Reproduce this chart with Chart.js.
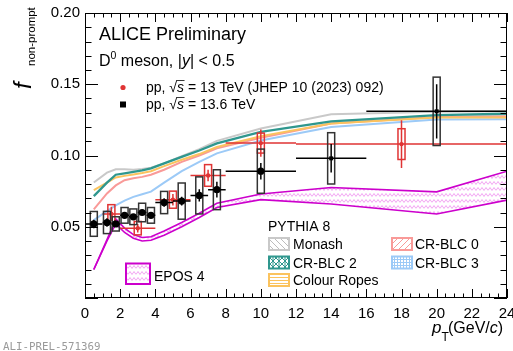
<!DOCTYPE html>
<html>
<head>
<meta charset="utf-8">
<script src="https://cdn.jsdelivr.net/npm/chart.js@4/dist/chart.umd.min.js"></script>
<style>
html,body{margin:0;padding:0;background:#fff;}
canvas{display:block;}
</style>
</head>
<body>
<canvas id="c" width="513" height="351"></canvas>
<script>
// ---------------- DATA ----------------
// pp 13.6 TeV (black)
const blackPt   = [0.5, 1.25, 1.75, 2.25, 2.75, 3.25, 3.75, 4.5, 5.5, 6.5, 7.5, 10, 14, 20];
const blackHalf = [0.5, 0.25, 0.25, 0.25, 0.25, 0.25, 0.25, 0.5, 0.5, 0.5, 0.5, 2, 2, 4];
const blackVal  = [0.052, 0.053, 0.052, 0.058, 0.057, 0.060, 0.058, 0.067, 0.068, 0.072, 0.076, 0.089, 0.098, 0.131];
const blackStat = [0.003, 0.003, 0.002, 0.002, 0.002, 0.002, 0.002, 0.003, 0.003, 0.0043, 0.0055, 0.0058, 0.010, 0.019];
const blackSyst = [0.0087, 0.0078, 0.005, 0.0055, 0.0055, 0.0065, 0.0055, 0.0078, 0.0127, 0.013, 0.014, 0.0155, 0.018, 0.024];

// pp 13 TeV JHEP 10 (2023) 092 (red)
const redPt   = [1.5, 3, 5, 7, 10, 18];
const redHalf = [0.5, 1, 1, 1, 2, 6];
const redVal  = [0.059, 0.049, 0.069, 0.086, 0.1087, 0.108];
const redStat = [0.005, 0.003, 0.004, 0.004, 0.0096, 0.0167];
const redSyst = [0.0065, 0.0047, 0.006, 0.0076, 0.007, 0.0108];

// model predictions at these pT values
const modelPt     = [0.5, 1.25, 1.75, 2.25, 2.75, 3.25, 3.75, 4.5, 5.5, 6.5, 7.5, 10, 14, 20, 24];
const monash      = [0.081, 0.088, 0.0903, 0.0903, 0.090, 0.0905, 0.0915, 0.0945, 0.0995, 0.1045, 0.1103, 0.119, 0.129, 0.1307, 0.131];
const crblc2      = [0.0715, 0.081, 0.0865, 0.0875, 0.0885, 0.0895, 0.091, 0.0945, 0.099, 0.1035, 0.1085, 0.1165, 0.124, 0.1283, 0.1293];
const colourRopes = [0.0757, 0.081, 0.0846, 0.0857, 0.0867, 0.0877, 0.089, 0.0925, 0.097, 0.101, 0.106, 0.1135, 0.1225, 0.1267, 0.1267];
const crblc0      = [0.0622, 0.0734, 0.079, 0.0827, 0.084, 0.085, 0.0865, 0.090, 0.0955, 0.100, 0.105, 0.1125, 0.1225, 0.127, 0.1275];
const crblc3      = [0.0547, 0.061, 0.065, 0.0683, 0.071, 0.0728, 0.0746, 0.081, 0.089, 0.0955, 0.1015, 0.1105, 0.120, 0.1253, 0.1255];
const eposLow     = [0.020, 0.040, 0.052, 0.046, 0.042, 0.040, 0.0405, 0.044, 0.050, 0.0565, 0.0635, 0.069, 0.066, 0.059, 0.0687];
const eposHigh    = [0.020, 0.041, 0.0555, 0.049, 0.0445, 0.0425, 0.043, 0.047, 0.053, 0.0595, 0.0665, 0.073, 0.0775, 0.0745, 0.089];

const xTickLabels = ['0','2','4','6','8','10','12','14','16','18','20','22','24'];
const yTickLabels = ['0.05','0.10','0.15','0.20'];

// ---------------- STYLE ----------------
const FONT = '"Liberation Sans", Arial, Helvetica, sans-serif';
const C_MONASH = '#c9c9c9', C_BLC2 = '#2f978e', C_ROPES = '#fbc35e', C_BLC0 = '#f99a98', C_BLC3 = '#9ccaf7';
const C_EPOS = '#cc00cc', C_RED = '#e03434';

function makePattern(kind, color, bg) {
  const s = 6;
  const cv = document.createElement('canvas'); cv.width = s; cv.height = s;
  const g = cv.getContext('2d');
  if (bg) { g.fillStyle = bg; g.fillRect(0,0,s,s); }
  g.strokeStyle = color; g.lineWidth = 1;
  g.beginPath();
  if (kind === 'back') { g.moveTo(0,0); g.lineTo(s,s); g.moveTo(-s/2,s/2); g.lineTo(s/2,s*1.5); g.moveTo(s/2,-s/2); g.lineTo(s*1.5,s/2);}
  else if (kind === 'fwd') { g.moveTo(0,s); g.lineTo(s,0); g.moveTo(-s/2,s/2); g.lineTo(s/2,-s/2); g.moveTo(s/2,s*1.5); g.lineTo(s*1.5,s/2);}
  else if (kind === 'horiz') { g.moveTo(0,1.5); g.lineTo(s,1.5); g.moveTo(0,4.5); g.lineTo(s,4.5); }
  else if (kind === 'grid') { g.moveTo(0,1.5); g.lineTo(s,1.5); g.moveTo(0,4.5); g.lineTo(s,4.5); g.moveTo(1.5,0); g.lineTo(1.5,s); g.moveTo(4.5,0); g.lineTo(4.5,s); }
  else if (kind === 'cross') { g.moveTo(0,0); g.lineTo(s,s); g.moveTo(0,s); g.lineTo(s,0); g.moveTo(s/2,0); g.lineTo(s/2,s);}
  g.stroke();
  return g.createPattern(cv, 'repeat');
}
const ctxMain = document.getElementById('c').getContext('2d');
const eposPattern = (function(){
  const cv = document.createElement('canvas'); cv.width = 8; cv.height = 6;
  const g = cv.getContext('2d');
  g.strokeStyle = '#f2a5f2'; g.lineWidth = 1;
  g.beginPath(); g.moveTo(0,4.5); g.lineTo(2,1.5); g.lineTo(4,4.5); g.lineTo(6,1.5); g.lineTo(8,4.5); g.stroke();
  return ctxMain.createPattern(cv,'repeat');
})();

function pts(xs, ys){ return xs.map((x,i)=>({x:x, y:ys[i]})); }
function modelDs(label, arr, color, order, w){
  return {type:'line', label, data: pts(modelPt, arr), borderColor: color, borderWidth: w || 2,
          pointRadius: 0, fill: false, tension: 0, order};
}

// ---------------- ERROR DRAWING ----------------
function drawErrors(chart, P, half, V, stat, syst, color, boxColor){
  const xs = chart.scales.x, ys = chart.scales.y, ctx = chart.ctx, a = chart.chartArea;
  ctx.save();
  ctx.beginPath(); ctx.rect(a.left, a.top, a.right-a.left, a.bottom-a.top); ctx.clip();
  ctx.lineWidth = 1.5;
  for (let i=0;i<P.length;i++){
    const x = xs.getPixelForValue(P[i]);
    const y = ys.getPixelForValue(V[i]);
    const bx0 = xs.getPixelForValue(P[i]-0.2), bx1 = xs.getPixelForValue(P[i]+0.2);
    const by0 = ys.getPixelForValue(V[i]+syst[i]), by1 = ys.getPixelForValue(V[i]-syst[i]);
    ctx.strokeStyle = boxColor;
    ctx.strokeRect(bx0, by0, bx1-bx0, by1-by0);
    ctx.strokeStyle = color;
    ctx.beginPath();
    ctx.moveTo(xs.getPixelForValue(P[i]-half[i]), y);
    ctx.lineTo(xs.getPixelForValue(P[i]+half[i]), y);
    ctx.moveTo(x, ys.getPixelForValue(V[i]+stat[i]));
    ctx.lineTo(x, ys.getPixelForValue(V[i]-stat[i]));
    ctx.stroke();
  }
  ctx.restore();
}

// ---------------- TEXT HELPERS ----------------
function rich(ctx, x, y, segs, baseSize){
  let cx = x;
  for (const s of segs){
    const size = s.size || baseSize;
    ctx.font = (s.italic?'italic ':'') + size + 'px ' + FONT;
    const yy = y + (s.dy||0);
    ctx.fillText(s.t, cx, yy);
    const w = ctx.measureText(s.t).width;
    if (s.overline){
      ctx.save(); ctx.lineWidth = 0.8; ctx.strokeStyle = ctx.fillStyle;
      ctx.beginPath(); ctx.moveTo(cx - 1, yy - size*0.82); ctx.lineTo(cx + w + 0.5, yy - size*0.82); ctx.stroke();
      ctx.restore();
    }
    cx += w + (s.gap||0);
  }
  return cx;
}
function legendBox(ctx, x, y, w, h, border, pattern){
  ctx.save();
  ctx.fillStyle = '#fff'; ctx.fillRect(x,y,w,h);
  ctx.fillStyle = pattern; ctx.fillRect(x,y,w,h);
  ctx.strokeStyle = border; ctx.lineWidth = 2; ctx.strokeRect(x,y,w,h);
  ctx.restore();
}

const decorPlugin = {
  id: 'decor',
  beforeDatasetDraw(chart, args){
    const ds = chart.data.datasets[args.index];
    if (ds.errKey === 'red') drawErrors(chart, redPt, redHalf, redVal, redStat, redSyst, C_RED, C_RED);
    if (ds.errKey === 'black') drawErrors(chart, blackPt, blackHalf, blackVal, blackStat, blackSyst, '#000', '#333');
  },
  afterDraw(chart){
    const ctx = chart.ctx, a = chart.chartArea, xs = chart.scales.x, ys = chart.scales.y;
    ctx.save();
    ctx.strokeStyle = '#000'; ctx.lineWidth = 1;
    ctx.strokeRect(a.left+0.5, a.top+0.5, a.right-a.left-1, a.bottom-a.top-1);
    ctx.beginPath();
    for (let k=0;k<=48;k++){
      const v = k*0.5, px = Math.round(xs.getPixelForValue(v))+0.5;
      const len = (k%4===0) ? 9 : 4.5;
      ctx.moveTo(px, a.bottom); ctx.lineTo(px, a.bottom-len);
      ctx.moveTo(px, a.top); ctx.lineTo(px, a.top+len);
    }
    for (let k=0;k<=20;k++){
      const v = k*0.01, py = Math.round(ys.getPixelForValue(v))+0.5;
      const len = (k%5===0) ? 13 : 6.5;
      ctx.moveTo(a.left, py); ctx.lineTo(a.left+len, py);
      ctx.moveTo(a.right, py); ctx.lineTo(a.right-len, py);
    }
    ctx.stroke();

    ctx.fillStyle = '#000';
    ctx.textBaseline = 'alphabetic'; ctx.textAlign = 'left';
    ctx.font = '18px ' + FONT;
    ctx.fillText('ALICE Preliminary', 99, 39.5);
    rich(ctx, 99, 66, [
      {t:'D'}, {t:'0', size:10.5, dy:-7}, {t:' meson, |'}, {t:'y', italic:true}, {t:'| < 0.5'}
    ], 16);
    ctx.fillStyle = C_RED;
    ctx.beginPath(); ctx.arc(123, 87.5, 2.6, 0, Math.PI*2); ctx.fill();
    ctx.fillStyle = '#000';
    ctx.fillRect(120, 101.5, 6, 6);
    rich(ctx, 146, 92, [{t:'pp, '}, {t:'\u221A'}, {t:'s', italic:true, overline:true}, {t:' = 13 TeV (JHEP 10 (2023) 092)'}], 14);
    rich(ctx, 146, 109, [{t:'pp, '}, {t:'\u221A'}, {t:'s', italic:true, overline:true}, {t:' = 13.6 TeV'}], 14);

    ctx.font = '14px ' + FONT;
    ctx.fillText('PYTHIA 8', 268, 231);
    legendBox(ctx, 269, 238, 20, 12, C_MONASH, makePattern('back', '#bdbdbd'));
    legendBox(ctx, 269, 256.5, 20, 12, C_BLC2, makePattern('cross', C_BLC2));
    legendBox(ctx, 269, 274, 20, 12, C_ROPES, makePattern('horiz', C_ROPES));
    legendBox(ctx, 392, 238, 20, 12, C_BLC0, makePattern('fwd', C_BLC0));
    legendBox(ctx, 392, 256.5, 20, 12, C_BLC3, makePattern('grid', C_BLC3));
    legendBox(ctx, 126, 263.5, 24, 20.5, C_EPOS, eposPattern);
    ctx.fillStyle = '#000';
    ctx.font = '14px ' + FONT;
    ctx.fillText('Monash', 293, 249);
    ctx.fillText('CR-BLC 2', 293, 267.5);
    ctx.fillText('Colour Ropes', 293, 285);
    ctx.fillText('CR-BLC 0', 415, 249);
    ctx.fillText('CR-BLC 3', 415, 267.5);
    ctx.fillText('EPOS 4', 154, 281);

    let xe = rich(ctx, 432, 333, [{t:'p', italic:true}], 17);
    rich(ctx, xe, 341, [{t:'T', size:12}], 12);
    rich(ctx, 448, 333, [{t:'(GeV/'}, {t:'c', italic:true}, {t:')'}], 16);

    ctx.save();
    ctx.translate(31, 89); ctx.rotate(-Math.PI/2);
    ctx.font = 'italic 24px ' + FONT;
    ctx.fillText('f', 0, 0);
    ctx.font = '11.5px ' + FONT;
    ctx.fillText('non-prompt', 23, 4);
    ctx.restore();

    ctx.fillStyle = '#9a9a9a';
    ctx.font = '10.8px "DejaVu Sans Mono", monospace';
    ctx.fillText('ALI-PREL-571369', 3, 350);
    ctx.restore();
  }
};

new Chart(ctxMain, {
  type: 'scatter',
  data: {
    datasets: [
      {type:'scatter', label:'black', errKey:'black', data: pts(blackPt, blackVal),
       pointStyle: blackPt.map(p => p >= 14 ? 'rect' : 'circle'),
       pointRadius: blackPt.map(p => p >= 14 ? 2.8 : 3.6),
       backgroundColor:'#000', borderColor:'#000', borderWidth:0, order:0},
      {type:'scatter', label:'red', errKey:'red', data: pts(redPt, redVal), pointStyle:'circle', pointRadius:2.2,
       backgroundColor:C_RED, borderColor:C_RED, borderWidth:0, order:1},
      {type:'line', label:'EPOS low', data: pts(modelPt, eposLow), borderColor:C_EPOS, borderWidth:1.6,
       pointRadius:0, fill:false, tension:0, order:3},
      {type:'line', label:'EPOS high', data: pts(modelPt, eposHigh), borderColor:C_EPOS, borderWidth:1.6,
       pointRadius:0, fill:'-1', backgroundColor: eposPattern, tension:0, order:3},
      modelDs('CR-BLC 3', crblc3, C_BLC3, 10),
      modelDs('CR-BLC 0', crblc0, C_BLC0, 11),
      modelDs('Colour Ropes', colourRopes, C_ROPES, 9),
      modelDs('Monash', monash, C_MONASH, 13),
      modelDs('CR-BLC 2', crblc2, C_BLC2, 8, 2.3)
    ]
  },
  options: {
    responsive: false, animation: false, devicePixelRatio: 1,
    layout: { padding: {left:0, right:6, top:13, bottom:0}, autoPadding: false },
    plugins: { legend: {display:false}, tooltip: {enabled:false}, filler: {propagate:false} },
    scales: {
      x: { type:'linear', min:0, max:24,
           afterFit(s){ s.height = 53; s.paddingLeft = 0; s.paddingRight = 0; },
           afterBuildTicks(s){ s.ticks = xTickLabels.map(t => ({value: Number(t)})); },
           grid:{display:false, drawTicks:false}, border:{display:false},
           ticks:{ callback:(v)=> String(v), font:{family:FONT, size:15}, color:'#000', padding:7, maxRotation:0, autoSkip:false } },
      y: { type:'linear', min:0, max:0.2,
           afterFit(s){ s.width = 85; s.paddingTop = 0; s.paddingBottom = 0; },
           afterBuildTicks(s){ s.ticks = yTickLabels.map(t => ({value: Number(t)})); },
           grid:{display:false, drawTicks:false}, border:{display:false},
           ticks:{ callback:(v)=> Number(v).toFixed(2), font:{family:FONT, size:15}, color:'#000', padding:5, autoSkip:false } }
    }
  },
  plugins: [decorPlugin]
});
</script>
</body>
</html>
